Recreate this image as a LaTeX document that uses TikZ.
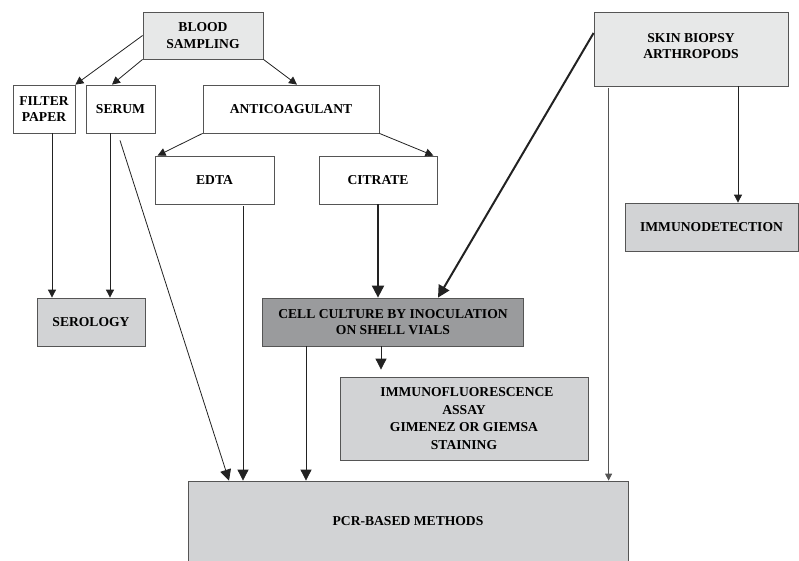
\documentclass[tikz,border=0pt]{standalone}
\usepackage{fontspec}
\setmainfont{Liberation Serif}
\usetikzlibrary{arrows.meta,calc}
\definecolor{bordercol}{HTML}{555555}
\definecolor{lightfill}{HTML}{E7E8E8}
\definecolor{midfill}{HTML}{D2D3D5}
\definecolor{darkfill}{HTML}{9A9B9D}
\definecolor{linecol}{HTML}{222222}
\begin{document}
\begin{tikzpicture}[x=1pt,y=-1pt,
  box/.style={draw=bordercol, line width=0.8pt, align=center, inner sep=0pt,
    font=\bfseries\fontsize{13.6}{16.5}\selectfont},
  arr/.style={draw=linecol, line width=0.8pt, -{Triangle[length=8pt,width=8pt]}},
  arrbig/.style={draw=linecol, line width=0.8pt, -{Triangle[length=11pt,width=11pt]}},
  arrthick/.style={draw=linecol, line width=2pt, -{Triangle[length=12pt,width=12pt]}},
  arrgray/.style={draw=bordercol, line width=0.8pt, -{Triangle[length=7pt,width=7pt]}}]
\useasboundingbox (0,0) rectangle (799,560);
% boxes
\node[box, fill=lightfill, minimum width=120pt, minimum height=47pt] (blood) at (203,35.5) {BLOOD\\SAMPLING};
\node[box, fill=white, minimum width=62pt, minimum height=48pt] (filter) at (44,109) {FILTER\\PAPER};
\node[box, fill=white, minimum width=69pt, minimum height=48pt] (serum) at (120.5,109) {SERUM};
\node[box, fill=white, minimum width=176pt, minimum height=48pt] (anti) at (291,109) {ANTICOAGULANT};
\node[box, fill=white, minimum width=119pt, minimum height=48pt] (edta) at (214.5,180) {EDTA};
\node[box, fill=white, minimum width=118pt, minimum height=48pt] (citrate) at (378,180) {CITRATE};
\node[box, fill=lightfill, minimum width=194pt, minimum height=74pt] (skin) at (691,49) {};
\node[box, draw=none, fill=none] (skintext) at ([yshift=3pt]skin.center) {SKIN BIOPSY\\ARTHROPODS};
\node[box, fill=midfill, minimum width=173pt, minimum height=48pt] (immuno) at (711.5,227) {IMMUNODETECTION};
\node[box, fill=midfill, minimum width=108pt, minimum height=48pt] (serology) at (91,322) {SEROLOGY};
\node[box, fill=darkfill, minimum width=261pt, minimum height=48pt] (cell) at (393,322) {CELL CULTURE BY INOCULATION\\ON SHELL VIALS};
\node[box, fill=midfill, minimum width=248pt, minimum height=83pt,
  font=\bfseries\fontsize{13.6}{17.8}\selectfont] (ifa) at (464,418.5) {\hspace*{6pt}IMMUNOFLUORESCENCE\\ASSAY\\GIMENEZ OR GIEMSA\\STAINING};
\node[box, fill=midfill, minimum width=440pt, minimum height=86pt] (pcr) at (408,524) {};
\node[box, draw=none, fill=none] (pcrtext) at (408,521) {PCR-BASED METHODS};
% connectors
\draw[arr] (blood.west) -- (filter.north east);
\draw[arr] (blood.south west) -- ([xshift=-8.5pt]serum.north);
\draw[arr] (blood.south east) -- ([xshift=6pt]anti.north);
\draw[arr] (anti.south west) -- ([xshift=3pt]edta.north west);
\draw[arr] (anti.south east) -- ([xshift=-4pt]citrate.north east);
\draw[arr] ([xshift=8pt]filter.south) -- ([xshift=8pt]filter.south |- serology.north);
\draw[arr] ([xshift=-10.5pt]serum.south) -- ([xshift=-10.5pt]serum.south |- serology.north);
\coordinate (serumstart) at ($(serum.south)+(-0.5,7)$);
\draw[arrbig] (serumstart) -- ([xshift=-179pt]pcr.north);
\coordinate (edtastart) at ($(edta.south)+(28.5,2)$);
\draw[arrbig] (edtastart) -- (edtastart |- pcr.north);
\draw[arrthick] (citrate.south) -- (citrate.south |- cell.north);
\draw[arrthick] ([yshift=16pt]skin.west) -- ([xshift=45pt]cell.north);
\draw[arrbig] ([xshift=-87pt]cell.south) -- ([xshift=-87pt]cell.south |- pcr.north);
\draw[arrbig, shorten >=7pt] ([xshift=-12pt]cell.south) -- ([xshift=-12pt]cell.south |- ifa.north);
\coordinate (skinstart) at ($(skin.south west)+(15,2)$);
\draw[arrgray] (skinstart) -- (skinstart |- pcr.north);
\draw[arr] ([xshift=47pt]skin.south) -- ([xshift=47pt]skin.south |- immuno.north);
\end{tikzpicture}
\end{document}
